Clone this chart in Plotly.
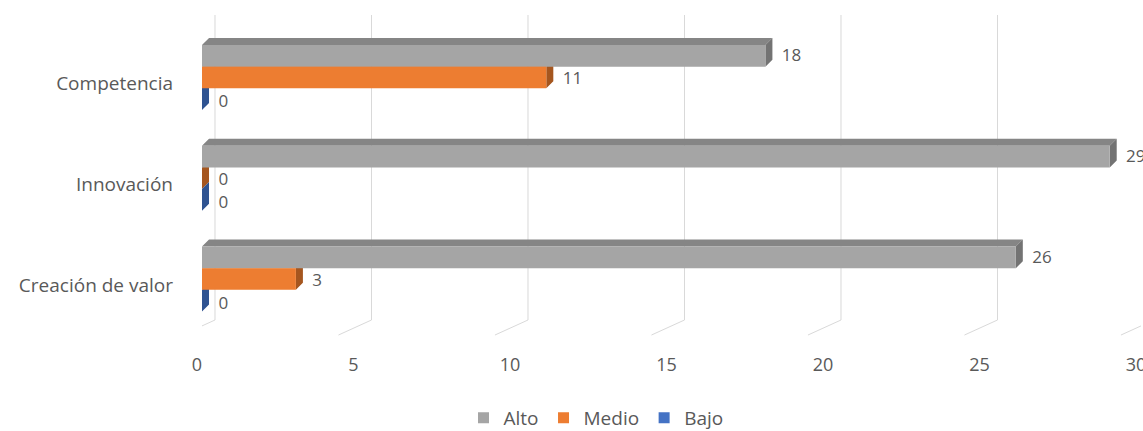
import plotly.graph_objects as go

# Survey results per dimension (counts), listed top to bottom
CATEGORIES = ["Competencia", "Innovación", "Creación de valor"]
SERIES = ["Alto", "Medio", "Bajo"]
ALTO = [18, 29, 26]
MEDIO = [11, 0, 3]
BAJO = [0, 0, 0]
X_TICKS = [0, 5, 10, 15, 20, 25, 30]

VALUES = {"Alto": ALTO, "Medio": MEDIO, "Bajo": BAJO}
FRONT = {"Alto": "#a5a5a5", "Medio": "#ed7d31", "Bajo": "#4472c4"}
TOP = {"Alto": "#858585", "Medio": "#c4672a", "Bajo": "#3a63ad"}
SIDE = {"Alto": "#737373", "Medio": "#a5561f", "Bajo": "#2f5391"}

TEXT = "#595959"
GRID = "#d9d9d9"
FONT = "Open Sans"

# Page geometry (pixels)
W, H = 1143, 431
M_LEFT, M_RIGHT, M_BOTTOM = 180, 2, 86
BAR_LEFT = 202                 # where the value 0 of the bars sits
LABEL_SHIFT_PX = 5             # value labels sit left of the bar origin
X_RANGE = [0, 30]
PLOT_W = W - M_LEFT - M_RIGHT
PX_PER_UNIT = (W - M_RIGHT - BAR_LEFT) / (X_RANGE[1] - X_RANGE[0])
x_dom0 = (BAR_LEFT - M_LEFT) / PLOT_W
lab0 = X_RANGE[0] - (BAR_LEFT - LABEL_SHIFT_PX - M_LEFT) / PX_PER_UNIT
LABEL_RANGE = [lab0, lab0 + PLOT_W / PX_PER_UNIT]

# 3-D look: depth of the bars and of the back wall, in axis units
BAR_H = 0.215          # thickness of one bar (category spacing = 1)
DEPTH_X = 0.224        # horizontal extrusion of each bar
DEPTH_Y = 0.0695       # vertical extrusion (upwards)
WALL_X = 0.415         # back wall offset for the gridlines
WALL_TOP = -0.62
WALL_BOTTOM = 2.407
FLOOR_X = -0.64
FLOOR_Y = 2.556
LABEL_STEP = 0.228     # vertical spacing of the data labels within a group

fig = go.Figure()

# Back-wall gridlines with their floor segments
gx, gy = [], []
for t in X_TICKS:
    gx += [t + WALL_X, t + WALL_X, t + FLOOR_X, None]
    gy += [WALL_TOP, WALL_BOTTOM, FLOOR_Y, None]
fig.add_trace(go.Scatter(x=gx, y=gy, mode="lines", line=dict(color=GRID, width=1),
                         hoverinfo="skip", showlegend=False))


def bar_top(ci, si):
    return ci - 1.5 * BAR_H + si * BAR_H


def face_trace(xs, ys, color):
    return go.Scatter(x=xs, y=ys, mode="lines", fill="toself", fillcolor=color,
                      line=dict(width=0, color=color), hoverinfo="skip", showlegend=False)


# Top and side faces first, then the front faces on top of them
for si, s in enumerate(SERIES):
    tx, ty, sx, sy = [], [], [], []
    for ci, v in enumerate(VALUES[s]):
        y0 = bar_top(ci, si)
        y1 = y0 + BAR_H
        tx += [0, v, v + DEPTH_X, DEPTH_X, 0, None]
        ty += [y0, y0, y0 - DEPTH_Y, y0 - DEPTH_Y, y0, None]
        sx += [v, v + DEPTH_X, v + DEPTH_X, v, v, None]
        sy += [y0, y0 - DEPTH_Y, y1 - DEPTH_Y, y1, y0, None]
    fig.add_trace(face_trace(tx, ty, TOP[s]))
    fig.add_trace(face_trace(sx, sy, SIDE[s]))

for si, s in enumerate(SERIES):
    fx, fy = [], []
    for ci, v in enumerate(VALUES[s]):
        y0 = bar_top(ci, si)
        y1 = y0 + BAR_H
        fx += [0, v, v, 0, 0, None]
        fy += [y0, y0, y1, y1, y0, None]
    fig.add_trace(face_trace(fx, fy, FRONT[s]))

# Data labels
for si, s in enumerate(SERIES):
    vals = VALUES[s]
    fig.add_trace(go.Scatter(
        x=[v + DEPTH_X + 0.3 for v in vals],
        y=[ci + (si - 1) * LABEL_STEP + 0.025 for ci in range(len(vals))],
        mode="text", text=[str(v) for v in vals], textposition="middle right",
        textfont=dict(family=FONT, size=17, color=TEXT),
        cliponaxis=False, hoverinfo="skip", showlegend=False))

# Legend entries (placed on the label axis so that axis is always drawn)
for s in SERIES:
    fig.add_trace(go.Scatter(x=[None], y=[None], mode="markers", name=s, xaxis="x2",
                             marker=dict(symbol="square", size=11, color=FRONT[s])))

fig.update_layout(
    width=W, height=H,
    margin=dict(l=M_LEFT, r=M_RIGHT, t=0, b=M_BOTTOM, autoexpand=False),
    paper_bgcolor="white", plot_bgcolor="rgba(0,0,0,0)",
    font=dict(family=FONT, size=18, color=TEXT),
    showlegend=True,
    legend=dict(orientation="h", x=596 / W, xref="container", xanchor="center",
                y=1 - 418 / H, yref="container", yanchor="middle",
                font=dict(family=FONT, size=19, color=TEXT), itemwidth=30),
    xaxis=dict(domain=[x_dom0, 1], range=X_RANGE, showgrid=False, zeroline=False,
               showline=False, showticklabels=False, ticks=""),
    xaxis2=dict(domain=[0, 1], range=LABEL_RANGE, anchor="y", side="bottom",
                showgrid=False, zeroline=False, showline=False,
                tickmode="array", tickvals=X_TICKS, ticks="", ticklabelstandoff=7,
                ticklabeloverflow="allow",
                tickfont=dict(family=FONT, size=18, color=TEXT)),
    yaxis=dict(anchor="x", range=[2.655, -0.769], showgrid=False, zeroline=False,
               showline=False,
               tickmode="array", tickvals=[i + 0.06 for i in range(len(CATEGORIES))],
               ticktext=CATEGORIES, ticks="", ticklabelstandoff=28,
               tickfont=dict(family=FONT, size=19, color=TEXT)),
)

fig.write_html("out.html")
